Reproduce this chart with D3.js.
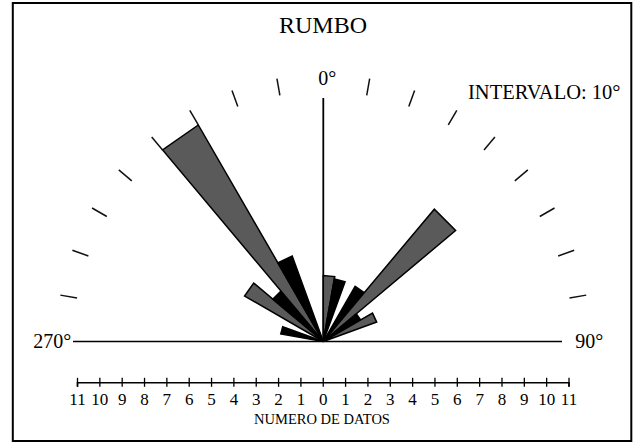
<!DOCTYPE html>
<html>
<head>
<meta charset="utf-8">
<script src="https://cdn.jsdelivr.net/npm/d3@7"></script>
<style>
  html, body { margin: 0; padding: 0; background: #fff; }
  svg { display: block; }
  text { font-family: "Liberation Serif", "Times New Roman", serif; fill: #000; }
</style>
</head>
<body>
<div id="chart"></div>
<script>
// ---- data ----
const binStart = [280, 300, 310, 320, 330, 0, 10, 30, 40, 50, 60];   // start of each 10° class (degrees)
const counts   = [1.9, 4.0, 2.9, 11, 4.0, 2.9, 2.8, 2.8, 7.6, 1.9, 2.5]; // numero de datos
const binWidth = 10;
const scaleTicks = [-11,-10,-9,-8,-7,-6,-5,-4,-3,-2,-1,0,1,2,3,4,5,6,7,8,9,10,11];
const arcTicks = [280, 290, 300, 310, 320, 330, 340, 350, 10, 20, 30, 40, 50, 60, 70, 80];
const angleLabels = ["270°", "0°", "90°"];
const title = "RUMBO";
const intervalLabel = "INTERVALO: 10°";
const axisTitle = "NUMERO DE DATOS";

// ---- layout ----
const W = 640, H = 442;
const cx = 323.3, cy = 341.5;
const blackPetals = new Set([280, 310, 330, 10, 30, 50]);

const svg = d3.select("#chart").append("svg").attr("width", W).attr("height", H);

// frame
svg.append("rect").attr("x", 12.8).attr("y", 3).attr("width", 618.5).attr("height", 438)
  .attr("fill", "none").attr("stroke", "#000").attr("stroke-width", 2);

// title
svg.append("text").attr("x", 323).attr("y", 33).attr("text-anchor", "middle")
  .attr("font-size", 24).text(title);
svg.append("text").attr("x", 468).attr("y", 99)
  .attr("font-size", 20.5).text(intervalLabel);

// radial scale
const r = d3.scaleLinear().domain([0, 11]).range([0, 250]);
const toRad = a => a * Math.PI / 180;
const px = (a, rad) => cx + rad * Math.sin(toRad(a));
const py = (a, rad) => cy - rad * Math.cos(toRad(a));

const g = svg.append("g");

// reference lines
g.append("line").attr("x1", 73).attr("x2", 562).attr("y1", cy).attr("y2", cy)
  .attr("stroke", "#000").attr("stroke-width", 1.6);
g.append("line").attr("x1", cx).attr("x2", cx).attr("y1", cy).attr("y2", 98)
  .attr("stroke", "#000").attr("stroke-width", 1.8);

// arc graduation ticks
g.selectAll("line.arc").data(arcTicks).join("line").attr("class", "arc")
  .attr("x1", d => px(d, 250)).attr("y1", d => py(d, 250))
  .attr("x2", d => px(d, 267)).attr("y2", d => py(d, 267))
  .attr("stroke", "#111").attr("stroke-width", 1.5);

// angle labels
g.append("text").attr("x", cx - 252).attr("y", cy + 6).attr("text-anchor", "end")
  .attr("font-size", 20).text(angleLabels[0]);
g.append("text").attr("x", cx + 4).attr("y", 85).attr("text-anchor", "middle")
  .attr("font-size", 20).text(angleLabels[1]);
g.append("text").attr("x", cx + 252).attr("y", cy + 6).attr("text-anchor", "start")
  .attr("font-size", 20).text(angleLabels[2]);

// petals
const petals = binStart.map((s, i) => ({ start: s, end: s + binWidth, n: counts[i] }));
g.selectAll("path.petal").data(petals).join("path").attr("class", "petal")
  .attr("d", d => {
    const rr = r(d.n);
    return `M${cx},${cy}L${px(d.start, rr)},${py(d.start, rr)}L${px(d.end, rr)},${py(d.end, rr)}Z`;
  })
  .attr("fill", d => blackPetals.has(d.start) ? "#000" : "#5a5a5a")
  .attr("stroke", "#000").attr("stroke-width", 1.5).attr("stroke-linejoin", "miter");

// bottom scale
const x = d3.scaleLinear().domain([-11, 11]).range([77, 568.5]);
const axisG = svg.append("g").attr("transform", "translate(0,382.3)")
  .call(d3.axisBottom(x).tickValues(scaleTicks).tickFormat(d => Math.abs(d)).tickSizeOuter(0).tickSize(4.5).tickPadding(6));
axisG.select(".domain").attr("stroke", "#000").attr("stroke-width", 1.6);
axisG.selectAll(".tick line").attr("y1", -4.5).attr("y2", 4.5).attr("stroke", "#000").attr("stroke-width", 1.3);
axisG.selectAll(".tick text").attr("font-size", 17).attr("font-family", "Liberation Serif, serif").attr("fill", "#000");

svg.append("text").attr("x", 322).attr("y", 424).attr("text-anchor", "middle")
  .attr("font-size", 14.5).text(axisTitle);
</script>
</body>
</html>
